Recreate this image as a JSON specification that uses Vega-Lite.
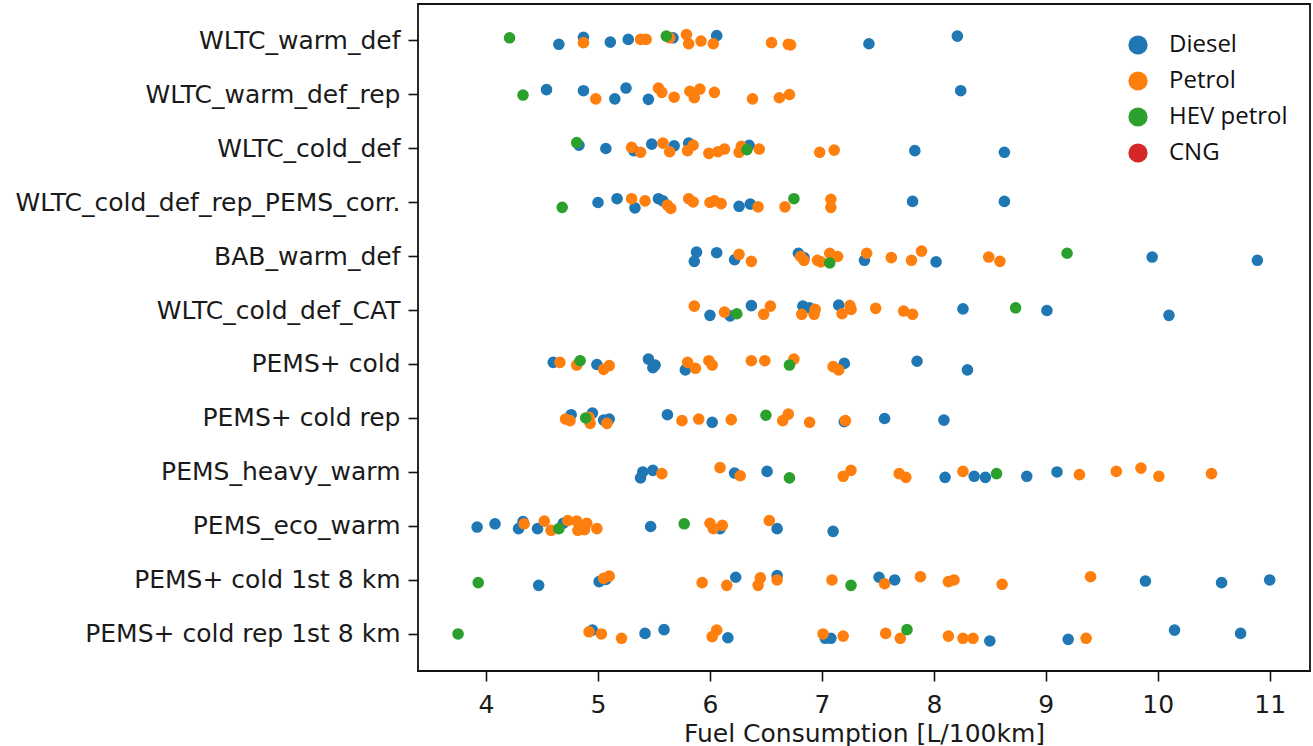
{
  "$schema": "https://vega.github.io/schema/vega-lite/v6.json",
  "width": 892,
  "height": 667,
  "autosize": {"type": "none"},
  "padding": {"left": 418, "top": 4, "right": 3, "bottom": 75},
  "background": "white",
  "config": {
    "font": "DejaVu Sans",
    "view": {"stroke": "#111", "strokeWidth": 1.8},
    "axis": {"labelColor": "#1a1a1a", "titleColor": "#1a1a1a", "labelFont": "DejaVu Sans", "titleFont": "DejaVu Sans", "labelFontSize": 25, "titleFontSize": 25, "titleFontWeight": "normal", "domain": false, "grid": false, "tickColor": "#111", "tickSize": 10, "tickWidth": 1.6}
  },
  "data": {"values": [
    {"test":"WLTC_warm_def","fuel":"Diesel","fc":4.65,"jitter":0.07},
    {"test":"WLTC_warm_def","fuel":"Diesel","fc":4.87,"jitter":-0.06},
    {"test":"WLTC_warm_def","fuel":"Diesel","fc":5.11,"jitter":0.03},
    {"test":"WLTC_warm_def","fuel":"Diesel","fc":5.27,"jitter":-0.02},
    {"test":"WLTC_warm_def","fuel":"Diesel","fc":5.67,"jitter":-0.05},
    {"test":"WLTC_warm_def","fuel":"Diesel","fc":6.06,"jitter":-0.09},
    {"test":"WLTC_warm_def","fuel":"Diesel","fc":7.42,"jitter":0.06},
    {"test":"WLTC_warm_def","fuel":"Diesel","fc":8.21,"jitter":-0.08},
    {"test":"WLTC_warm_def","fuel":"Petrol","fc":4.87,"jitter":0.04},
    {"test":"WLTC_warm_def","fuel":"Petrol","fc":5.38,"jitter":-0.02},
    {"test":"WLTC_warm_def","fuel":"Petrol","fc":5.43,"jitter":-0.02},
    {"test":"WLTC_warm_def","fuel":"Petrol","fc":5.64,"jitter":-0.05},
    {"test":"WLTC_warm_def","fuel":"Petrol","fc":5.79,"jitter":-0.11},
    {"test":"WLTC_warm_def","fuel":"Petrol","fc":5.81,"jitter":0.06},
    {"test":"WLTC_warm_def","fuel":"Petrol","fc":5.92,"jitter":0.01},
    {"test":"WLTC_warm_def","fuel":"Petrol","fc":6.03,"jitter":0.06},
    {"test":"WLTC_warm_def","fuel":"Petrol","fc":6.55,"jitter":0.04},
    {"test":"WLTC_warm_def","fuel":"Petrol","fc":6.70,"jitter":0.07},
    {"test":"WLTC_warm_def","fuel":"Petrol","fc":6.72,"jitter":0.08},
    {"test":"WLTC_warm_def","fuel":"HEV petrol","fc":4.21,"jitter":-0.05},
    {"test":"WLTC_warm_def","fuel":"HEV petrol","fc":5.61,"jitter":-0.08},

    {"test":"WLTC_warm_def_rep","fuel":"Diesel","fc":4.54,"jitter":-0.09},
    {"test":"WLTC_warm_def_rep","fuel":"Diesel","fc":4.87,"jitter":-0.07},
    {"test":"WLTC_warm_def_rep","fuel":"Diesel","fc":5.15,"jitter":0.08},
    {"test":"WLTC_warm_def_rep","fuel":"Diesel","fc":5.25,"jitter":-0.12},
    {"test":"WLTC_warm_def_rep","fuel":"Diesel","fc":5.45,"jitter":0.09},
    {"test":"WLTC_warm_def_rep","fuel":"Diesel","fc":8.24,"jitter":-0.07},
    {"test":"WLTC_warm_def_rep","fuel":"Petrol","fc":4.98,"jitter":0.08},
    {"test":"WLTC_warm_def_rep","fuel":"Petrol","fc":5.54,"jitter":-0.12},
    {"test":"WLTC_warm_def_rep","fuel":"Petrol","fc":5.57,"jitter":-0.04},
    {"test":"WLTC_warm_def_rep","fuel":"Petrol","fc":5.68,"jitter":0.05},
    {"test":"WLTC_warm_def_rep","fuel":"Petrol","fc":5.82,"jitter":-0.06},
    {"test":"WLTC_warm_def_rep","fuel":"Petrol","fc":5.86,"jitter":0.06},
    {"test":"WLTC_warm_def_rep","fuel":"Petrol","fc":5.91,"jitter":-0.10},
    {"test":"WLTC_warm_def_rep","fuel":"Petrol","fc":6.04,"jitter":-0.04},
    {"test":"WLTC_warm_def_rep","fuel":"Petrol","fc":6.38,"jitter":0.08},
    {"test":"WLTC_warm_def_rep","fuel":"Petrol","fc":6.62,"jitter":0.06},
    {"test":"WLTC_warm_def_rep","fuel":"Petrol","fc":6.71,"jitter":0.0},
    {"test":"WLTC_warm_def_rep","fuel":"HEV petrol","fc":4.33,"jitter":0.01},

    {"test":"WLTC_cold_def","fuel":"Diesel","fc":4.83,"jitter":-0.06},
    {"test":"WLTC_cold_def","fuel":"Diesel","fc":5.07,"jitter":0.0},
    {"test":"WLTC_cold_def","fuel":"Diesel","fc":5.32,"jitter":0.04},
    {"test":"WLTC_cold_def","fuel":"Diesel","fc":5.48,"jitter":-0.08},
    {"test":"WLTC_cold_def","fuel":"Diesel","fc":5.68,"jitter":-0.05},
    {"test":"WLTC_cold_def","fuel":"Diesel","fc":5.81,"jitter":-0.10},
    {"test":"WLTC_cold_def","fuel":"Diesel","fc":6.35,"jitter":-0.06},
    {"test":"WLTC_cold_def","fuel":"Diesel","fc":7.83,"jitter":0.04},
    {"test":"WLTC_cold_def","fuel":"Diesel","fc":8.63,"jitter":0.07},
    {"test":"WLTC_cold_def","fuel":"Petrol","fc":5.30,"jitter":-0.02},
    {"test":"WLTC_cold_def","fuel":"Petrol","fc":5.38,"jitter":0.07},
    {"test":"WLTC_cold_def","fuel":"Petrol","fc":5.58,"jitter":-0.10},
    {"test":"WLTC_cold_def","fuel":"Petrol","fc":5.64,"jitter":0.06},
    {"test":"WLTC_cold_def","fuel":"Petrol","fc":5.80,"jitter":0.04},
    {"test":"WLTC_cold_def","fuel":"Petrol","fc":5.85,"jitter":-0.06},
    {"test":"WLTC_cold_def","fuel":"Petrol","fc":5.99,"jitter":0.09},
    {"test":"WLTC_cold_def","fuel":"Petrol","fc":6.07,"jitter":0.06},
    {"test":"WLTC_cold_def","fuel":"Petrol","fc":6.13,"jitter":0.01},
    {"test":"WLTC_cold_def","fuel":"Petrol","fc":6.26,"jitter":0.07},
    {"test":"WLTC_cold_def","fuel":"Petrol","fc":6.28,"jitter":-0.04},
    {"test":"WLTC_cold_def","fuel":"Petrol","fc":6.44,"jitter":0.01},
    {"test":"WLTC_cold_def","fuel":"Petrol","fc":6.98,"jitter":0.07},
    {"test":"WLTC_cold_def","fuel":"Petrol","fc":7.11,"jitter":0.03},
    {"test":"WLTC_cold_def","fuel":"HEV petrol","fc":4.81,"jitter":-0.11},
    {"test":"WLTC_cold_def","fuel":"HEV petrol","fc":6.33,"jitter":0.02},

    {"test":"WLTC_cold_def_rep_PEMS_corr.","fuel":"Diesel","fc":5.00,"jitter":0.0},
    {"test":"WLTC_cold_def_rep_PEMS_corr.","fuel":"Diesel","fc":5.17,"jitter":-0.07},
    {"test":"WLTC_cold_def_rep_PEMS_corr.","fuel":"Diesel","fc":5.33,"jitter":0.10},
    {"test":"WLTC_cold_def_rep_PEMS_corr.","fuel":"Diesel","fc":5.54,"jitter":-0.07},
    {"test":"WLTC_cold_def_rep_PEMS_corr.","fuel":"Diesel","fc":5.58,"jitter":-0.03},
    {"test":"WLTC_cold_def_rep_PEMS_corr.","fuel":"Diesel","fc":6.26,"jitter":0.07},
    {"test":"WLTC_cold_def_rep_PEMS_corr.","fuel":"Diesel","fc":6.36,"jitter":0.03},
    {"test":"WLTC_cold_def_rep_PEMS_corr.","fuel":"Diesel","fc":7.81,"jitter":-0.02},
    {"test":"WLTC_cold_def_rep_PEMS_corr.","fuel":"Diesel","fc":8.63,"jitter":-0.02},
    {"test":"WLTC_cold_def_rep_PEMS_corr.","fuel":"Petrol","fc":5.30,"jitter":-0.07},
    {"test":"WLTC_cold_def_rep_PEMS_corr.","fuel":"Petrol","fc":5.42,"jitter":-0.03},
    {"test":"WLTC_cold_def_rep_PEMS_corr.","fuel":"Petrol","fc":5.62,"jitter":0.05},
    {"test":"WLTC_cold_def_rep_PEMS_corr.","fuel":"Petrol","fc":5.65,"jitter":0.11},
    {"test":"WLTC_cold_def_rep_PEMS_corr.","fuel":"Petrol","fc":5.81,"jitter":-0.07},
    {"test":"WLTC_cold_def_rep_PEMS_corr.","fuel":"Petrol","fc":5.85,"jitter":-0.01},
    {"test":"WLTC_cold_def_rep_PEMS_corr.","fuel":"Petrol","fc":6.00,"jitter":0.0},
    {"test":"WLTC_cold_def_rep_PEMS_corr.","fuel":"Petrol","fc":6.04,"jitter":-0.03},
    {"test":"WLTC_cold_def_rep_PEMS_corr.","fuel":"Petrol","fc":6.10,"jitter":0.02},
    {"test":"WLTC_cold_def_rep_PEMS_corr.","fuel":"Petrol","fc":6.43,"jitter":0.08},
    {"test":"WLTC_cold_def_rep_PEMS_corr.","fuel":"Petrol","fc":6.67,"jitter":0.08},
    {"test":"WLTC_cold_def_rep_PEMS_corr.","fuel":"Petrol","fc":7.08,"jitter":-0.06},
    {"test":"WLTC_cold_def_rep_PEMS_corr.","fuel":"Petrol","fc":7.08,"jitter":0.09},
    {"test":"WLTC_cold_def_rep_PEMS_corr.","fuel":"HEV petrol","fc":4.68,"jitter":0.09},
    {"test":"WLTC_cold_def_rep_PEMS_corr.","fuel":"HEV petrol","fc":6.75,"jitter":-0.07},

    {"test":"BAB_warm_def","fuel":"Diesel","fc":5.88,"jitter":-0.08},
    {"test":"BAB_warm_def","fuel":"Diesel","fc":5.86,"jitter":0.09},
    {"test":"BAB_warm_def","fuel":"Diesel","fc":6.06,"jitter":-0.07},
    {"test":"BAB_warm_def","fuel":"Diesel","fc":6.22,"jitter":0.06},
    {"test":"BAB_warm_def","fuel":"Diesel","fc":6.79,"jitter":-0.06},
    {"test":"BAB_warm_def","fuel":"Diesel","fc":6.84,"jitter":0.02},
    {"test":"BAB_warm_def","fuel":"Diesel","fc":7.38,"jitter":0.07},
    {"test":"BAB_warm_def","fuel":"Diesel","fc":8.02,"jitter":0.10},
    {"test":"BAB_warm_def","fuel":"Diesel","fc":9.95,"jitter":0.01},
    {"test":"BAB_warm_def","fuel":"Diesel","fc":10.89,"jitter":0.07},
    {"test":"BAB_warm_def","fuel":"Petrol","fc":6.26,"jitter":-0.04},
    {"test":"BAB_warm_def","fuel":"Petrol","fc":6.37,"jitter":0.09},
    {"test":"BAB_warm_def","fuel":"Petrol","fc":6.81,"jitter":0.0},
    {"test":"BAB_warm_def","fuel":"Petrol","fc":6.84,"jitter":0.07},
    {"test":"BAB_warm_def","fuel":"Petrol","fc":6.96,"jitter":0.07},
    {"test":"BAB_warm_def","fuel":"Petrol","fc":6.99,"jitter":0.10},
    {"test":"BAB_warm_def","fuel":"Petrol","fc":7.07,"jitter":-0.06},
    {"test":"BAB_warm_def","fuel":"Petrol","fc":7.14,"jitter":0.0},
    {"test":"BAB_warm_def","fuel":"Petrol","fc":7.40,"jitter":-0.06},
    {"test":"BAB_warm_def","fuel":"Petrol","fc":7.62,"jitter":0.02},
    {"test":"BAB_warm_def","fuel":"Petrol","fc":7.80,"jitter":0.07},
    {"test":"BAB_warm_def","fuel":"Petrol","fc":7.89,"jitter":-0.10},
    {"test":"BAB_warm_def","fuel":"Petrol","fc":8.49,"jitter":0.01},
    {"test":"BAB_warm_def","fuel":"Petrol","fc":8.59,"jitter":0.09},
    {"test":"BAB_warm_def","fuel":"HEV petrol","fc":7.07,"jitter":0.12},
    {"test":"BAB_warm_def","fuel":"HEV petrol","fc":9.19,"jitter":-0.06},

    {"test":"WLTC_cold_def_CAT","fuel":"Diesel","fc":6.00,"jitter":0.09},
    {"test":"WLTC_cold_def_CAT","fuel":"Diesel","fc":6.18,"jitter":0.10},
    {"test":"WLTC_cold_def_CAT","fuel":"Diesel","fc":6.37,"jitter":-0.09},
    {"test":"WLTC_cold_def_CAT","fuel":"Diesel","fc":6.83,"jitter":-0.08},
    {"test":"WLTC_cold_def_CAT","fuel":"Diesel","fc":6.89,"jitter":-0.05},
    {"test":"WLTC_cold_def_CAT","fuel":"Diesel","fc":7.15,"jitter":-0.10},
    {"test":"WLTC_cold_def_CAT","fuel":"Diesel","fc":8.26,"jitter":-0.03},
    {"test":"WLTC_cold_def_CAT","fuel":"Diesel","fc":9.01,"jitter":0.0},
    {"test":"WLTC_cold_def_CAT","fuel":"Diesel","fc":10.10,"jitter":0.09},
    {"test":"WLTC_cold_def_CAT","fuel":"Petrol","fc":5.86,"jitter":-0.08},
    {"test":"WLTC_cold_def_CAT","fuel":"Petrol","fc":6.13,"jitter":0.03},
    {"test":"WLTC_cold_def_CAT","fuel":"Petrol","fc":6.48,"jitter":0.07},
    {"test":"WLTC_cold_def_CAT","fuel":"Petrol","fc":6.54,"jitter":-0.08},
    {"test":"WLTC_cold_def_CAT","fuel":"Petrol","fc":6.82,"jitter":0.07},
    {"test":"WLTC_cold_def_CAT","fuel":"Petrol","fc":6.93,"jitter":0.07},
    {"test":"WLTC_cold_def_CAT","fuel":"Petrol","fc":6.94,"jitter":-0.02},
    {"test":"WLTC_cold_def_CAT","fuel":"Petrol","fc":7.18,"jitter":0.06},
    {"test":"WLTC_cold_def_CAT","fuel":"Petrol","fc":7.25,"jitter":-0.09},
    {"test":"WLTC_cold_def_CAT","fuel":"Petrol","fc":7.26,"jitter":-0.02},
    {"test":"WLTC_cold_def_CAT","fuel":"Petrol","fc":7.48,"jitter":-0.04},
    {"test":"WLTC_cold_def_CAT","fuel":"Petrol","fc":7.73,"jitter":0.01},
    {"test":"WLTC_cold_def_CAT","fuel":"Petrol","fc":7.81,"jitter":0.07},
    {"test":"WLTC_cold_def_CAT","fuel":"HEV petrol","fc":6.24,"jitter":0.06},
    {"test":"WLTC_cold_def_CAT","fuel":"HEV petrol","fc":8.73,"jitter":-0.05},

    {"test":"PEMS+ cold","fuel":"Diesel","fc":4.60,"jitter":-0.04},
    {"test":"PEMS+ cold","fuel":"Diesel","fc":4.99,"jitter":0.0},
    {"test":"PEMS+ cold","fuel":"Diesel","fc":5.45,"jitter":-0.10},
    {"test":"PEMS+ cold","fuel":"Diesel","fc":5.49,"jitter":0.06},
    {"test":"PEMS+ cold","fuel":"Diesel","fc":5.51,"jitter":0.01},
    {"test":"PEMS+ cold","fuel":"Diesel","fc":5.78,"jitter":0.10},
    {"test":"PEMS+ cold","fuel":"Diesel","fc":7.20,"jitter":-0.02},
    {"test":"PEMS+ cold","fuel":"Diesel","fc":7.85,"jitter":-0.06},
    {"test":"PEMS+ cold","fuel":"Diesel","fc":8.30,"jitter":0.10},
    {"test":"PEMS+ cold","fuel":"Petrol","fc":4.66,"jitter":-0.04},
    {"test":"PEMS+ cold","fuel":"Petrol","fc":4.81,"jitter":0.01},
    {"test":"PEMS+ cold","fuel":"Petrol","fc":5.05,"jitter":0.09},
    {"test":"PEMS+ cold","fuel":"Petrol","fc":5.10,"jitter":0.02},
    {"test":"PEMS+ cold","fuel":"Petrol","fc":5.80,"jitter":-0.04},
    {"test":"PEMS+ cold","fuel":"Petrol","fc":5.87,"jitter":0.07},
    {"test":"PEMS+ cold","fuel":"Petrol","fc":5.99,"jitter":-0.07},
    {"test":"PEMS+ cold","fuel":"Petrol","fc":6.02,"jitter":0.01},
    {"test":"PEMS+ cold","fuel":"Petrol","fc":6.37,"jitter":-0.07},
    {"test":"PEMS+ cold","fuel":"Petrol","fc":6.49,"jitter":-0.07},
    {"test":"PEMS+ cold","fuel":"Petrol","fc":6.75,"jitter":-0.10},
    {"test":"PEMS+ cold","fuel":"Petrol","fc":7.10,"jitter":0.04},
    {"test":"PEMS+ cold","fuel":"Petrol","fc":7.15,"jitter":0.10},
    {"test":"PEMS+ cold","fuel":"HEV petrol","fc":4.84,"jitter":-0.07},
    {"test":"PEMS+ cold","fuel":"HEV petrol","fc":6.71,"jitter":0.01},

    {"test":"PEMS+ cold rep","fuel":"Diesel","fc":4.76,"jitter":-0.07},
    {"test":"PEMS+ cold rep","fuel":"Diesel","fc":4.95,"jitter":-0.10},
    {"test":"PEMS+ cold rep","fuel":"Diesel","fc":5.05,"jitter":0.03},
    {"test":"PEMS+ cold rep","fuel":"Diesel","fc":5.10,"jitter":0.01},
    {"test":"PEMS+ cold rep","fuel":"Diesel","fc":5.62,"jitter":-0.07},
    {"test":"PEMS+ cold rep","fuel":"Diesel","fc":6.02,"jitter":0.07},
    {"test":"PEMS+ cold rep","fuel":"Diesel","fc":7.20,"jitter":0.06},
    {"test":"PEMS+ cold rep","fuel":"Diesel","fc":7.56,"jitter":0.0},
    {"test":"PEMS+ cold rep","fuel":"Diesel","fc":8.09,"jitter":0.03},
    {"test":"PEMS+ cold rep","fuel":"Petrol","fc":4.71,"jitter":0.01},
    {"test":"PEMS+ cold rep","fuel":"Petrol","fc":4.75,"jitter":0.04},
    {"test":"PEMS+ cold rep","fuel":"Petrol","fc":4.92,"jitter":-0.02},
    {"test":"PEMS+ cold rep","fuel":"Petrol","fc":4.93,"jitter":0.09},
    {"test":"PEMS+ cold rep","fuel":"Petrol","fc":5.08,"jitter":0.09},
    {"test":"PEMS+ cold rep","fuel":"Petrol","fc":5.75,"jitter":0.04},
    {"test":"PEMS+ cold rep","fuel":"Petrol","fc":5.90,"jitter":0.01},
    {"test":"PEMS+ cold rep","fuel":"Petrol","fc":6.19,"jitter":0.02},
    {"test":"PEMS+ cold rep","fuel":"Petrol","fc":6.70,"jitter":-0.08},
    {"test":"PEMS+ cold rep","fuel":"Petrol","fc":6.65,"jitter":0.04},
    {"test":"PEMS+ cold rep","fuel":"Petrol","fc":6.89,"jitter":0.07},
    {"test":"PEMS+ cold rep","fuel":"Petrol","fc":7.21,"jitter":0.04},
    {"test":"PEMS+ cold rep","fuel":"HEV petrol","fc":4.89,"jitter":-0.01},
    {"test":"PEMS+ cold rep","fuel":"HEV petrol","fc":6.50,"jitter":-0.06},

    {"test":"PEMS_heavy_warm","fuel":"Diesel","fc":5.38,"jitter":0.10},
    {"test":"PEMS_heavy_warm","fuel":"Diesel","fc":5.40,"jitter":-0.01},
    {"test":"PEMS_heavy_warm","fuel":"Diesel","fc":5.49,"jitter":-0.04},
    {"test":"PEMS_heavy_warm","fuel":"Diesel","fc":6.22,"jitter":0.01},
    {"test":"PEMS_heavy_warm","fuel":"Diesel","fc":6.51,"jitter":-0.02},
    {"test":"PEMS_heavy_warm","fuel":"Diesel","fc":8.10,"jitter":0.09},
    {"test":"PEMS_heavy_warm","fuel":"Diesel","fc":8.36,"jitter":0.07},
    {"test":"PEMS_heavy_warm","fuel":"Diesel","fc":8.46,"jitter":0.09},
    {"test":"PEMS_heavy_warm","fuel":"Diesel","fc":8.83,"jitter":0.07},
    {"test":"PEMS_heavy_warm","fuel":"Diesel","fc":9.10,"jitter":-0.01},
    {"test":"PEMS_heavy_warm","fuel":"Petrol","fc":5.57,"jitter":0.02},
    {"test":"PEMS_heavy_warm","fuel":"Petrol","fc":6.09,"jitter":-0.09},
    {"test":"PEMS_heavy_warm","fuel":"Petrol","fc":6.27,"jitter":0.06},
    {"test":"PEMS_heavy_warm","fuel":"Petrol","fc":7.19,"jitter":0.07},
    {"test":"PEMS_heavy_warm","fuel":"Petrol","fc":7.26,"jitter":-0.04},
    {"test":"PEMS_heavy_warm","fuel":"Petrol","fc":7.69,"jitter":0.02},
    {"test":"PEMS_heavy_warm","fuel":"Petrol","fc":7.75,"jitter":0.09},
    {"test":"PEMS_heavy_warm","fuel":"Petrol","fc":8.26,"jitter":-0.02},
    {"test":"PEMS_heavy_warm","fuel":"Petrol","fc":9.30,"jitter":0.04},
    {"test":"PEMS_heavy_warm","fuel":"Petrol","fc":9.63,"jitter":-0.02},
    {"test":"PEMS_heavy_warm","fuel":"Petrol","fc":9.85,"jitter":-0.08},
    {"test":"PEMS_heavy_warm","fuel":"Petrol","fc":10.01,"jitter":0.07},
    {"test":"PEMS_heavy_warm","fuel":"Petrol","fc":10.48,"jitter":0.02},
    {"test":"PEMS_heavy_warm","fuel":"HEV petrol","fc":6.71,"jitter":0.10},
    {"test":"PEMS_heavy_warm","fuel":"HEV petrol","fc":8.56,"jitter":0.02},

    {"test":"PEMS_eco_warm","fuel":"Diesel","fc":3.92,"jitter":0.01},
    {"test":"PEMS_eco_warm","fuel":"Diesel","fc":4.08,"jitter":-0.05},
    {"test":"PEMS_eco_warm","fuel":"Diesel","fc":4.29,"jitter":0.04},
    {"test":"PEMS_eco_warm","fuel":"Diesel","fc":4.33,"jitter":-0.09},
    {"test":"PEMS_eco_warm","fuel":"Diesel","fc":4.46,"jitter":0.04},
    {"test":"PEMS_eco_warm","fuel":"Diesel","fc":4.69,"jitter":-0.06},
    {"test":"PEMS_eco_warm","fuel":"Diesel","fc":5.47,"jitter":0.0},
    {"test":"PEMS_eco_warm","fuel":"Diesel","fc":6.09,"jitter":0.04},
    {"test":"PEMS_eco_warm","fuel":"Diesel","fc":6.60,"jitter":0.04},
    {"test":"PEMS_eco_warm","fuel":"Diesel","fc":7.10,"jitter":0.09},
    {"test":"PEMS_eco_warm","fuel":"Petrol","fc":4.34,"jitter":-0.05},
    {"test":"PEMS_eco_warm","fuel":"Petrol","fc":4.52,"jitter":-0.10},
    {"test":"PEMS_eco_warm","fuel":"Petrol","fc":4.58,"jitter":0.07},
    {"test":"PEMS_eco_warm","fuel":"Petrol","fc":4.73,"jitter":-0.11},
    {"test":"PEMS_eco_warm","fuel":"Petrol","fc":4.81,"jitter":-0.10},
    {"test":"PEMS_eco_warm","fuel":"Petrol","fc":4.82,"jitter":0.07},
    {"test":"PEMS_eco_warm","fuel":"Petrol","fc":4.88,"jitter":0.06},
    {"test":"PEMS_eco_warm","fuel":"Petrol","fc":4.90,"jitter":-0.06},
    {"test":"PEMS_eco_warm","fuel":"Petrol","fc":4.99,"jitter":0.04},
    {"test":"PEMS_eco_warm","fuel":"Petrol","fc":6.00,"jitter":-0.06},
    {"test":"PEMS_eco_warm","fuel":"Petrol","fc":6.03,"jitter":0.04},
    {"test":"PEMS_eco_warm","fuel":"Petrol","fc":6.11,"jitter":-0.02},
    {"test":"PEMS_eco_warm","fuel":"Petrol","fc":6.53,"jitter":-0.11},
    {"test":"PEMS_eco_warm","fuel":"HEV petrol","fc":4.65,"jitter":0.04},
    {"test":"PEMS_eco_warm","fuel":"HEV petrol","fc":5.77,"jitter":-0.05},

    {"test":"PEMS+ cold 1st 8 km","fuel":"Diesel","fc":4.47,"jitter":0.09},
    {"test":"PEMS+ cold 1st 8 km","fuel":"Diesel","fc":5.01,"jitter":0.02},
    {"test":"PEMS+ cold 1st 8 km","fuel":"Diesel","fc":5.07,"jitter":-0.02},
    {"test":"PEMS+ cold 1st 8 km","fuel":"Diesel","fc":6.23,"jitter":-0.06},
    {"test":"PEMS+ cold 1st 8 km","fuel":"Diesel","fc":6.60,"jitter":-0.09},
    {"test":"PEMS+ cold 1st 8 km","fuel":"Diesel","fc":7.51,"jitter":-0.06},
    {"test":"PEMS+ cold 1st 8 km","fuel":"Diesel","fc":7.65,"jitter":-0.01},
    {"test":"PEMS+ cold 1st 8 km","fuel":"Diesel","fc":9.89,"jitter":0.01},
    {"test":"PEMS+ cold 1st 8 km","fuel":"Diesel","fc":10.57,"jitter":0.04},
    {"test":"PEMS+ cold 1st 8 km","fuel":"Diesel","fc":11.00,"jitter":-0.01},
    {"test":"PEMS+ cold 1st 8 km","fuel":"Petrol","fc":5.05,"jitter":-0.04},
    {"test":"PEMS+ cold 1st 8 km","fuel":"Petrol","fc":5.10,"jitter":-0.08},
    {"test":"PEMS+ cold 1st 8 km","fuel":"Petrol","fc":5.93,"jitter":0.04},
    {"test":"PEMS+ cold 1st 8 km","fuel":"Petrol","fc":6.15,"jitter":0.09},
    {"test":"PEMS+ cold 1st 8 km","fuel":"Petrol","fc":6.43,"jitter":0.09},
    {"test":"PEMS+ cold 1st 8 km","fuel":"Petrol","fc":6.45,"jitter":-0.05},
    {"test":"PEMS+ cold 1st 8 km","fuel":"Petrol","fc":6.60,"jitter":-0.01},
    {"test":"PEMS+ cold 1st 8 km","fuel":"Petrol","fc":7.09,"jitter":-0.01},
    {"test":"PEMS+ cold 1st 8 km","fuel":"Petrol","fc":7.56,"jitter":0.06},
    {"test":"PEMS+ cold 1st 8 km","fuel":"Petrol","fc":7.88,"jitter":-0.07},
    {"test":"PEMS+ cold 1st 8 km","fuel":"Petrol","fc":8.13,"jitter":0.02},
    {"test":"PEMS+ cold 1st 8 km","fuel":"Petrol","fc":8.18,"jitter":-0.01},
    {"test":"PEMS+ cold 1st 8 km","fuel":"Petrol","fc":8.61,"jitter":0.07},
    {"test":"PEMS+ cold 1st 8 km","fuel":"Petrol","fc":9.40,"jitter":-0.07},
    {"test":"PEMS+ cold 1st 8 km","fuel":"HEV petrol","fc":3.93,"jitter":0.04},
    {"test":"PEMS+ cold 1st 8 km","fuel":"HEV petrol","fc":7.26,"jitter":0.09},

    {"test":"PEMS+ cold rep 1st 8 km","fuel":"Diesel","fc":4.95,"jitter":-0.08},
    {"test":"PEMS+ cold rep 1st 8 km","fuel":"Diesel","fc":5.42,"jitter":-0.02},
    {"test":"PEMS+ cold rep 1st 8 km","fuel":"Diesel","fc":5.59,"jitter":-0.09},
    {"test":"PEMS+ cold rep 1st 8 km","fuel":"Diesel","fc":6.16,"jitter":0.06},
    {"test":"PEMS+ cold rep 1st 8 km","fuel":"Diesel","fc":7.03,"jitter":0.07},
    {"test":"PEMS+ cold rep 1st 8 km","fuel":"Diesel","fc":7.08,"jitter":0.07},
    {"test":"PEMS+ cold rep 1st 8 km","fuel":"Diesel","fc":8.50,"jitter":0.12},
    {"test":"PEMS+ cold rep 1st 8 km","fuel":"Diesel","fc":9.20,"jitter":0.09},
    {"test":"PEMS+ cold rep 1st 8 km","fuel":"Diesel","fc":10.15,"jitter":-0.08},
    {"test":"PEMS+ cold rep 1st 8 km","fuel":"Diesel","fc":10.74,"jitter":-0.02},
    {"test":"PEMS+ cold rep 1st 8 km","fuel":"Petrol","fc":4.92,"jitter":-0.05},
    {"test":"PEMS+ cold rep 1st 8 km","fuel":"Petrol","fc":5.03,"jitter":-0.01},
    {"test":"PEMS+ cold rep 1st 8 km","fuel":"Petrol","fc":5.21,"jitter":0.07},
    {"test":"PEMS+ cold rep 1st 8 km","fuel":"Petrol","fc":6.02,"jitter":0.04},
    {"test":"PEMS+ cold rep 1st 8 km","fuel":"Petrol","fc":6.06,"jitter":-0.08},
    {"test":"PEMS+ cold rep 1st 8 km","fuel":"Petrol","fc":7.01,"jitter":-0.01},
    {"test":"PEMS+ cold rep 1st 8 km","fuel":"Petrol","fc":7.19,"jitter":0.03},
    {"test":"PEMS+ cold rep 1st 8 km","fuel":"Petrol","fc":7.57,"jitter":-0.02},
    {"test":"PEMS+ cold rep 1st 8 km","fuel":"Petrol","fc":7.70,"jitter":0.07},
    {"test":"PEMS+ cold rep 1st 8 km","fuel":"Petrol","fc":8.13,"jitter":0.03},
    {"test":"PEMS+ cold rep 1st 8 km","fuel":"Petrol","fc":8.26,"jitter":0.07},
    {"test":"PEMS+ cold rep 1st 8 km","fuel":"Petrol","fc":8.35,"jitter":0.07},
    {"test":"PEMS+ cold rep 1st 8 km","fuel":"Petrol","fc":9.36,"jitter":0.07},
    {"test":"PEMS+ cold rep 1st 8 km","fuel":"HEV petrol","fc":3.75,"jitter":-0.01},
    {"test":"PEMS+ cold rep 1st 8 km","fuel":"HEV petrol","fc":7.76,"jitter":-0.09}
  ]},
  "mark": {"type": "circle", "size": 135, "opacity": 1},
  "encoding": {
    "x": {"field": "fc", "type": "quantitative", "title": "Fuel Consumption [L/100km]",
      "scale": {"domain": [3.392, 11.36], "nice": false, "zero": false},
      "axis": {"values": [4,5,6,7,8,9,10,11], "labelPadding": 11, "titlePadding": 4, "format": "d"}},
    "y": {"field": "test", "type": "nominal", "title": null, "sort": null,
      "scale": {"type": "band", "paddingInner": 0, "paddingOuter": 0.176},
      "axis": {"labelPadding": 8, "labelLimit": 500}},
    "yOffset": {"field": "jitter", "type": "quantitative", "scale": {"domain": [-0.5, 0.5]}},
    "color": {"field": "fuel", "type": "nominal",
      "scale": {"domain": ["Diesel", "Petrol", "HEV petrol", "CNG"], "range": ["#1f77b4", "#ff7f0e", "#2ca02c", "#d62728"]},
      "legend": {"title": null, "orient": "none", "legendX": 708, "legendY": 29, "symbolType": "circle", "symbolSize": 370, "symbolOpacity": 1, "symbolStrokeWidth": 0, "labelFont": "Open Sans", "labelFontSize": 24, "labelColor": "#111", "labelOffset": 19, "rowPadding": 12, "padding": 0}}
  }
}
